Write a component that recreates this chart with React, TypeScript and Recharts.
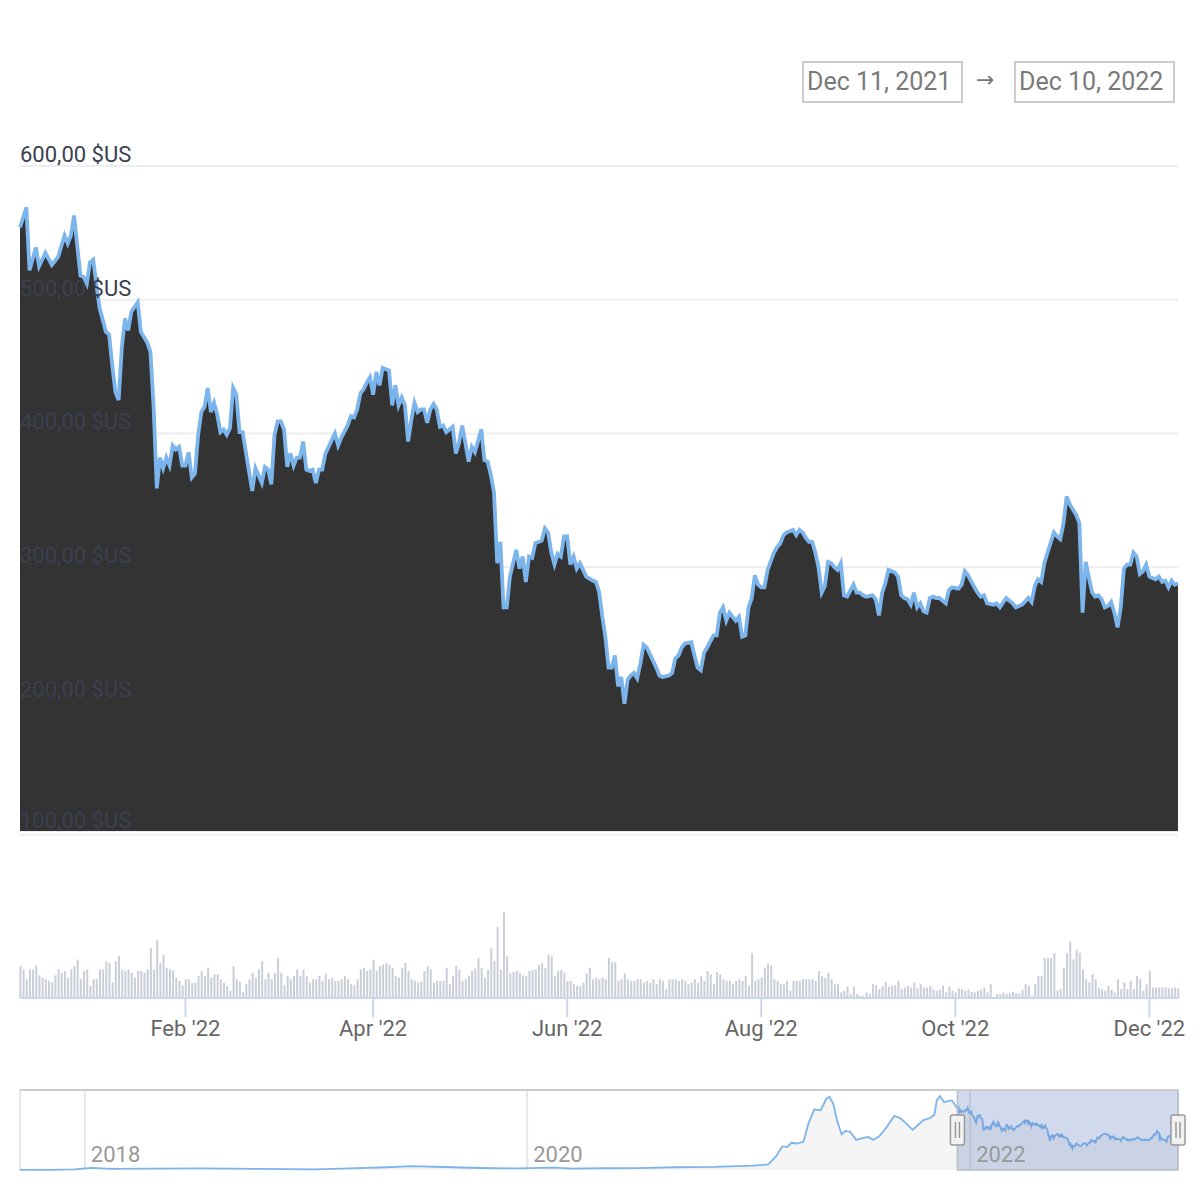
import React from "react";
import {
  AreaChart,
  Area,
  BarChart,
  Bar,
  XAxis,
  YAxis,
  CartesianGrid,
  ReferenceArea,
  ReferenceLine,
} from "recharts";

// ---------- DATA ----------
// Daily close (USD), [day offset from Dec 11 2021, price]
const pricePoints: [number, number][] = [
  [0,554],[2,569],[3,522],[5,539],[6,525],[8,535],[10,526],[12,532],[14,548],[15,542],[16,548],[17,563],[19,518],[20,517],[21,512],[22,528],[23,530],[24,512],[25,494],[27,476],[28,474],[29,451],[30,431],[31,425],[32,464],[33,486],[34,477],[35,491],[37,498],[38,476],[40,468],[41,461],[42,420],[43,359],[44,382],[45,374],[46,382],[47,376],[48,391],[49,388],[50,390],[51,376],[52,376],[53,386],[54,367],[55,370],[56,399],[57,416],[58,420],[59,434],[60,416],[61,423],[62,414],[63,401],[64,403],[65,399],[66,404],[67,434],[68,429],[69,401],[70,401],[71,386],[73,357],[74,374],[76,363],[77,375],[78,373],[79,362],[80,399],[81,409],[82,409],[83,403],[84,375],[85,385],[86,376],[87,382],[88,382],[89,394],[90,373],[91,372],[92,373],[93,363],[94,373],[95,373],[96,385],[98,395],[99,400],[100,391],[101,397],[103,406],[104,413],[105,412],[106,418],[107,430],[108,433],[109,438],[110,442],[111,429],[112,446],[113,436],[114,449],[115,448],[116,447],[117,421],[118,436],[119,421],[120,427],[121,421],[122,394],[123,410],[124,423],[125,416],[126,418],[127,418],[128,408],[129,418],[130,422],[131,418],[132,405],[133,406],[134,401],[136,405],[137,385],[138,393],[139,406],[140,393],[141,379],[142,390],[143,386],[145,403],[146,380],[147,379],[148,369],[149,356],[150,303],[151,319],[152,270],[153,270],[154,293],[156,313],[157,299],[158,308],[159,289],[160,308],[161,307],[162,318],[164,320],[165,329],[166,326],[167,311],[168,302],[169,310],[170,308],[171,323],[172,323],[173,302],[174,308],[175,299],[176,303],[177,298],[178,293],[180,290],[181,289],[182,282],[183,264],[184,248],[185,225],[186,225],[187,234],[188,211],[189,218],[190,198],[191,216],[192,219],[193,221],[194,217],[195,228],[196,242],[197,240],[198,235],[200,225],[201,219],[202,218],[204,219],[205,221],[206,232],[207,234],[208,240],[209,243],[211,244],[212,234],[213,225],[214,223],[215,236],[216,240],[218,249],[219,249],[220,266],[221,270],[222,260],[223,266],[224,263],[225,260],[226,263],[227,248],[228,249],[229,270],[230,277],[231,294],[232,287],[233,285],[234,285],[235,298],[237,311],[238,315],[239,318],[240,324],[241,326],[242,327],[243,328],[244,324],[245,328],[246,326],[247,322],[248,319],[249,319],[250,311],[251,300],[252,281],[253,286],[254,304],[255,303],[256,300],[257,298],[258,303],[259,279],[260,278],[262,287],[263,281],[264,281],[265,279],[266,278],[268,279],[269,276],[270,264],[271,281],[272,288],[273,298],[275,296],[276,293],[277,279],[278,277],[279,276],[280,272],[281,281],[282,270],[283,273],[284,267],[285,266],[286,277],[287,278],[288,277],[289,277],[291,273],[292,283],[293,285],[295,284],[296,287],[297,297],[298,294],[300,285],[301,281],[302,278],[303,279],[304,273],[306,272],[307,273],[308,270],[310,277],[312,273],[313,270],[315,272],[317,277],[318,274],[319,286],[320,291],[321,289],[322,303],[323,311],[325,326],[326,323],[327,321],[328,333],[329,353],[330,347],[331,343],[332,339],[333,333],[334,266],[335,304],[336,292],[337,281],[338,278],[339,279],[340,276],[341,270],[342,271],[343,274],[344,266],[345,255],[346,270],[347,299],[348,302],[349,302],[350,311],[351,308],[352,295],[353,297],[354,302],[355,293],[356,292],[357,291],[358,293],[359,289],[360,290],[361,285],[362,290],[363,287],[364,288],
];

// Daily volume (million USD), one per day from Dec 11 2021
const volumeValues: number[] = [
  1940,1740,1140,1740,1740,1980,1380,1240,1140,1040,
  980,1380,1740,1540,1640,1240,1740,1940,2340,1140,
  1640,1740,740,1140,1140,1740,1740,2220,2140,940,
  2240,2580,1740,1640,1740,1540,1240,1640,1640,1540,
  1740,3040,1740,3540,2140,2640,1840,1740,1680,1240,
  1040,780,1140,1140,900,940,1340,1640,1340,1840,
  1240,1440,1440,1140,940,740,440,1940,1140,980,
  340,840,1140,1540,1240,1740,2240,1140,1540,1140,
  1540,2440,1540,780,1340,1140,1340,1740,1340,1740,
  1340,940,1140,1140,1340,1040,1500,1140,1240,1040,
  1040,1140,1340,1140,840,780,1140,1740,1840,1640,
  1740,2340,1640,1940,2040,2140,2040,1840,1340,1240,
  1840,2140,1640,1140,1040,940,980,1640,1940,1740,
  940,1040,1040,1040,1840,840,1340,1940,1740,1040,
  1140,1340,1640,1780,2440,1840,1240,1740,3040,2240,
  4340,1740,5240,2540,1500,1580,1640,1540,1380,1340,
  1640,1700,1740,2040,2140,1840,2640,2540,1340,1640,
  1700,1540,1040,1040,840,740,740,940,1500,1840,
  1140,1240,1140,
  1240,1140,2440,2180,2180,1040,1140,1500,1140,1040,
  1040,1140,1140,940,1040,940,1140,840,1140,1040,
  540,1140,1140,1140,1040,1140,1040,840,940,1140,
  940,1340,1040,1640,1440,840,1580,1440,1140,1040,
  1040,840,1040,1140,1040,1340,740,2740,1040,1140,
  1240,1840,2080,1980,1140,1040,840,840,1040,440,
  1040,1040,1040,1140,1140,1140,1140,1040,1640,1340,
  1240,1540,1140,840,840,340,440,700,240,700,
  240,140,140,340,240,840,780,540,700,980,
  700,740,780,1040,540,640,740,640,940,580,
  840,640,640,740,540,440,500,740,340,700,
  440,340,580,540,440,540,380,340,440,500,
  640,340,840,40,240,240,340,240,280,380,
  300,280,500,840,740,140,840,1340,1340,2440,
  2440,2440,2740,440,540,1840,2740,3440,2340,2940,
  2740,1740,1140,940,1440,1140,640,540,440,740,
  500,340,1140,540,940,540,1040,540,1340,1140,
  440,840,1640,640,640,640,640,640,580,580,
  640,580,
];

// Navigator history before the selected range: [date, price]
const navHistory: [string, number][] = [
  ["2017-09-16",2],["2017-11-01",2],["2017-12-15",6],["2018-01-12",20],["2018-02-15",10],
  ["2018-04-15",13],["2018-07-15",14],["2018-10-15",10],["2019-01-15",6],["2019-03-15",15],
  ["2019-05-15",25],["2019-06-25",35],["2019-08-15",27],["2019-10-15",18],["2019-12-15",14],
  ["2020-02-15",22],["2020-03-15",12],["2020-04-30",16],["2020-07-02",17],["2020-09-03",25],
  ["2020-11-06",28],["2021-01-08",40],["2021-02-02",50],["2021-02-15",126],["2021-02-25",214],
  ["2021-03-05",208],["2021-03-12",247],["2021-03-22",240],["2021-04-01",257],["2021-04-09",420],
  ["2021-04-19",550],["2021-04-29",540],["2021-05-09",648],["2021-05-14",664],["2021-05-20",599],
  ["2021-05-27",436],["2021-06-03",322],["2021-06-09",354],["2021-06-17",345],["2021-06-27",273],
  ["2021-07-07",289],["2021-07-17",299],["2021-07-25",273],["2021-08-04",305],["2021-08-14",371],
  ["2021-08-24",452],["2021-08-29",491],["2021-09-08",469],["2021-09-18",420],["2021-09-28",364],
  ["2021-10-06",403],["2021-10-16",452],["2021-10-26",469],["2021-11-03",501],["2021-11-07",631],
  ["2021-11-12",670],["2021-11-19",615],["2021-11-25",625],["2021-12-02",631],["2021-12-07",590],
];

const priceTicks = [100, 200, 300, 400, 500, 600];
const monthTickDays = [52, 111, 172, 233, 294, 355];
const monthTickLabels = ["Feb '22", "Apr '22", "Jun '22", "Aug '22", "Oct '22", "Dec '22"];
const navTickDates = ["2018-01-01", "2020-01-01", "2022-01-01"];
const navTickLabels = ["2018", "2020", "2022"];
const rangeLabels = ["Dec 11, 2021", "Dec 10, 2022"];

// ---------- DERIVED ----------
const DAY = 86400000;
const START = Date.UTC(2021, 11, 11);
const END = START + 364 * DAY;
const NAV_START = Date.parse("2017-09-16");

const priceData = pricePoints.map(([d, p]) => ({ day: d, price: p }));
const volumeData = volumeValues.map((v, i) => ({ day: i, volume: v }));
const navData = [
  ...navHistory.map(([d, p]) => ({ t: Date.parse(d), price: p })),
  ...pricePoints.map(([d, p]) => ({ t: START + d * DAY, price: p })),
];
const navTicks = navTickDates.map((d) => Date.parse(d));

const FONT = "Roboto, 'Noto Sans', sans-serif";
const fmtPrice = (v: number) => `${v.toFixed(2).replace(".", ",")} $US`;

const PriceTick = (props: any) => {
  const { y, payload } = props;
  return (
    <text x={20} y={Math.min(y - 4, 828)} fill="#3a4050" fontSize={22} fontFamily={FONT} textAnchor="start">
      {fmtPrice(payload.value)}
    </text>
  );
};

const NavTick = (props: any) => {
  const { x, payload } = props;
  const idx = navTicks.indexOf(payload.value);
  return (
    <text x={x + 6} y={74} fill="#999999" fontSize={22} fontFamily={FONT} textAnchor="start">
      {navTickLabels[idx]}
    </text>
  );
};

const NavHandle = (props: any) => {
  const vb = props.viewBox || {};
  const cx = vb.x;
  const cy = vb.y + vb.height / 2;
  return (
    <g>
      <rect x={cx - 7} y={cy - 15} width={14} height={30} rx={2} fill="#f2f2f2" stroke="#999999" strokeWidth={1.5} />
      <line x1={cx - 2} x2={cx - 2} y1={cy - 8} y2={cy + 8} stroke="#999999" strokeWidth={1.5} />
      <line x1={cx + 2} x2={cx + 2} y1={cy - 8} y2={cy + 8} stroke="#999999" strokeWidth={1.5} />
    </g>
  );
};

const boxStyle: React.CSSProperties = {
  position: "absolute",
  top: 61,
  width: 161,
  height: 42,
  border: "2px solid #cccccc",
  boxSizing: "border-box",
  color: "#7a7a7a",
  fontSize: 25,
  lineHeight: "38px",
  paddingLeft: 3,
  fontFamily: FONT,
  whiteSpace: "nowrap",
  overflow: "hidden",
};

export default function App() {
  return (
    <div style={{ position: "absolute", left: 0, top: 0, width: 1200, height: 1200, background: "#fff", fontFamily: FONT }}>
      {/* Range inputs */}
      <div style={{ ...boxStyle, left: 802 }}>{rangeLabels[0]}</div>
      <div style={{ position: "absolute", left: 976, top: 67, fontSize: 22, color: "#777", fontFamily: "'DejaVu Sans', sans-serif" }}>→</div>
      <div style={{ ...boxStyle, left: 1014 }}>{rangeLabels[1]}</div>

      {/* Main price chart */}
      <div style={{ position: "absolute", left: 0, top: 0 }}>
        <AreaChart width={1200} height={845} data={priceData} margin={{ top: 166, right: 22, bottom: 14, left: 19 }}>
          <CartesianGrid horizontal vertical={false} stroke="#eeeeee" strokeWidth={2} />
          <XAxis type="number" dataKey="day" domain={[0, 364]} hide />
          <Area
            type="linear"
            dataKey="price"
            stroke="#7cb5ec"
            strokeWidth={3.8}
            fill="#333333"
            fillOpacity={1}
            isAnimationActive={false}
            dot={false}
            activeDot={false}
          />
          <YAxis
            domain={[102.8, 600]}
            allowDataOverflow
            ticks={priceTicks}
            interval={0}
            width={1}
            axisLine={false}
            tickLine={false}
            tick={<PriceTick />}
          />
        </AreaChart>
      </div>

      {/* Volume chart */}
      <div style={{ position: "absolute", left: 0, top: 900 }}>
        <BarChart width={1200} height={150} data={volumeData} margin={{ top: 8, right: 22, bottom: 0, left: 20 }}>
          <XAxis
            type="number"
            dataKey="day"
            domain={[0, 364]}
            ticks={monthTickDays}
            interval={0}
            height={52}
            tickSize={19}
            tickMargin={3}
            stroke="#ccd6eb"
            strokeWidth={2}
            tick={{ fill: "#666666", fontSize: 22, fontFamily: FONT }}
            tickFormatter={(v: number) => monthTickLabels[monthTickDays.indexOf(v)]}
          />
          <YAxis domain={[0, 5480]} hide />
          <Bar dataKey="volume" fill="#c9ced8" barSize={2} isAnimationActive={false} />
        </BarChart>
      </div>

      {/* Navigator */}
      <div style={{ position: "absolute", left: 0, top: 1088 }}>
        <AreaChart width={1200} height={84} data={navData} margin={{ top: 2, right: 22, bottom: 1, left: 20 }}>
          <CartesianGrid vertical horizontal={false} stroke="#e6e6e6" strokeWidth={2} />
          <XAxis
            type="number"
            dataKey="t"
            domain={[NAV_START, END]}
            ticks={navTicks}
            interval={0}
            height={1}
            axisLine={false}
            tickLine={false}
            tick={<NavTick />}
          />
          <YAxis domain={[0, 725]} hide />
          <Area
            type="linear"
            dataKey="price"
            stroke="#7cb5ec"
            strokeWidth={1.8}
            fill="#333333"
            fillOpacity={0.05}
            isAnimationActive={false}
            dot={false}
            activeDot={false}
          />
          <ReferenceArea x1={START} x2={END} fill="#6685c2" fillOpacity={0.3} stroke="#b8bcc6" strokeWidth={1.5} />
          <ReferenceLine y={725} stroke="#cccccc" strokeWidth={2} />
          <ReferenceLine x={START} stroke="none" label={<NavHandle />} />
          <ReferenceLine x={END} stroke="none" label={<NavHandle />} />
        </AreaChart>
      </div>
    </div>
  );
}
